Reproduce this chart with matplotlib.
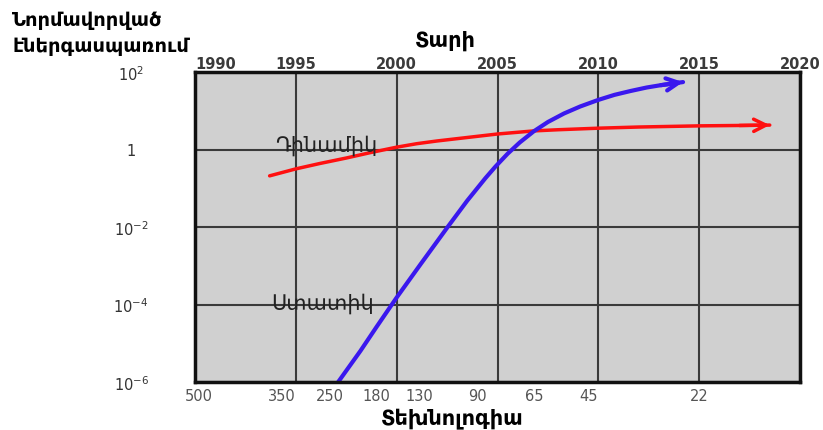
import matplotlib.pyplot as plt
import numpy as np

plt.rcParams['font.family'] = ['DejaVu Sans']
plt.rcParams['mathtext.default'] = 'regular'

# === Տվյալներ ===
year_ticks = [1990, 1995, 2000, 2005, 2010, 2015, 2020]
node_years = [1990.2, 1994.3, 1996.7, 1999.0, 2001.1, 2004.0, 2006.8, 2009.5, 2015.0]
node_labels = ["500", "350", "250", "180", "130", "90", "65", "45", "22"]
y_ticks = [1e2, 1, 1e-2, 1e-4, 1e-6]
y_labels = ["$10^{2}$", "1", "$10^{-2}$", "$10^{-4}$", "$10^{-6}$"]

# dynamic power (log10 values)
dyn_year = [1993.7, 1995.0, 1996.2, 1997.5, 1998.7, 2000.0, 2001.0, 2002.0, 2003.0, 2004.0,
            2005.0, 2006.8, 2008.0, 2010.0, 2012.0, 2015.0, 2017.0, 2018.5]
dyn_log = [-0.68, -0.50, -0.36, -0.22, -0.08, 0.06, 0.15, 0.22, 0.28, 0.34,
           0.40, 0.48, 0.51, 0.55, 0.58, 0.61, 0.62, 0.63]

# static power
sta_year = [1997.1, 1998.2, 1999.0, 1999.67, 2000.0, 2001.2, 2002.5, 2003.5, 2004.4, 2004.9,
            2005.5, 2006.1, 2006.8, 2007.5, 2008.3, 2009.1, 2010.0, 2010.8, 2011.6, 2012.4,
            2013.1, 2014.2]
sta_log = [-6.0, -5.2, -4.58, -4.07, -3.82, -2.95, -2.02, -1.32, -0.74, -0.44,
           -0.11, 0.18, 0.47, 0.71, 0.93, 1.11, 1.28, 1.41, 1.51, 1.60,
           1.66, 1.74]

dyn_y = 10 ** np.array(dyn_log)
sta_y = 10 ** np.array(sta_log)

W, H = 823, 431
fig = plt.figure(figsize=(W / 100, H / 100), dpi=100)
ax = fig.add_axes([195 / W, 48 / H, 605 / W, 310 / H])
ax.set_facecolor('#d0d0d0')

ax.set_xlim(1990, 2020)
ax.set_yscale('log')
ax.set_ylim(1e-6, 1e2)

# grid
ax.set_xticks(year_ticks)
ax.set_yticks(y_ticks)
ax.minorticks_off()
ax.grid(True, color='#3a3a3a', linewidth=1.5)
ax.set_axisbelow(True)

# top years
ax.xaxis.tick_top()
ax.set_xticklabels([str(y) for y in year_ticks], fontsize=10.5, fontweight='bold', color='#3a3a3a')
ax.tick_params(axis='x', length=0, pad=0.5)
ax.get_xticklabels()[0].set_horizontalalignment('left')
ax.set_yticklabels(y_labels, fontsize=10.5, color='#333333')
ax.tick_params(axis='y', length=0, pad=46)
for lbl in ax.get_yticklabels():
    lbl.set_horizontalalignment('center')

# bottom technology nodes
sec = ax.secondary_xaxis('bottom')
sec.set_xticks(node_years)
sec.set_xticklabels(node_labels, fontsize=10.5, color='#555555')
sec.tick_params(length=0, pad=4)
for s in sec.spines.values():
    s.set_visible(False)

for s in ax.spines.values():
    s.set_color('#111111')
    s.set_linewidth(2.5)

# curves
ax.plot(dyn_year, dyn_y, color='#ff1010', linewidth=2.5, solid_capstyle='round')
ax.plot(sta_year, sta_y, color='#3a18ee', linewidth=3, solid_capstyle='round')
ax.annotate('', xy=(dyn_year[-1], dyn_y[-1]), xytext=(dyn_year[-2], dyn_y[-2]),
            arrowprops=dict(arrowstyle='->', color='#ff1010', lw=2.5, mutation_scale=22,
                            shrinkA=0, shrinkB=0))
ax.annotate('', xy=(sta_year[-1], sta_y[-1]), xytext=(sta_year[-2], sta_y[-2]),
            arrowprops=dict(arrowstyle='->', color='#3a18ee', lw=3, mutation_scale=22,
                            shrinkA=0, shrinkB=0))

ax.text(1996.5, 10 ** 0.12, "Դինամիկ", fontsize=15, color='#222222', ha='center', va='center')
ax.text(1996.35, 10 ** -3.95, "Ստատիկ", fontsize=15, color='#222222', ha='center', va='center')

# titles
fig.text(12 / W, 1 - 21 / H, "Նորմավորված", fontsize=14, fontweight='bold', ha='left', va='center')
fig.text(12 / W, 1 - 47 / H, "էներգասպառում", fontsize=14, fontweight='bold', ha='left', va='center')
fig.text(445 / W, 1 - 41 / H, "Տարի", fontsize=15, fontweight='bold', ha='center', va='center')
fig.text(452 / W, 1 - 419 / H, "Տեխնոլոգիա", fontsize=15, fontweight='bold', ha='center', va='center')

fig.savefig('out.png', dpi=100)
